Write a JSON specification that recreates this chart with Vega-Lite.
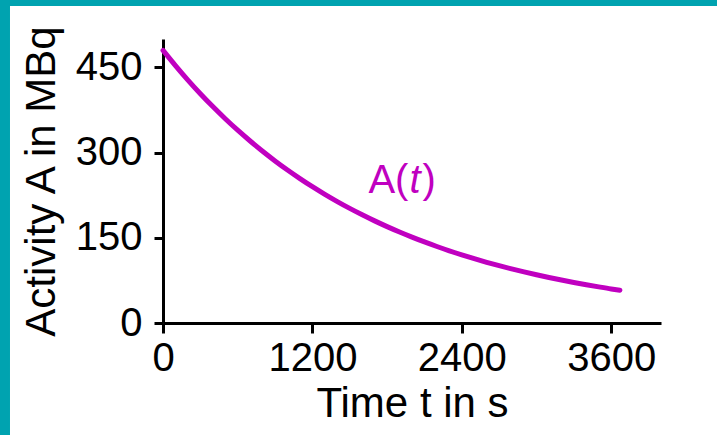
{
  "$schema": "https://vega.github.io/schema/vega-lite/v6.json",
  "width": 498,
  "height": 284,
  "autosize": {"type": "none"},
  "padding": {"left": 163, "top": 39, "right": 56, "bottom": 112},
  "background": "white",
  "config": {
    "view": {"stroke": null},
    "font": "Liberation Sans",
    "axis": {
      "domainColor": "black", "domainWidth": 3, "tickColor": "black", "tickWidth": 3,
      "labelFont": "Liberation Sans", "labelFontSize": 40, "labelColor": "black",
      "titleFont": "Liberation Sans", "titleFontSize": 42, "titleFontWeight": "normal", "titleColor": "black",
      "grid": false
    }
  },
  "datasets": {
    "curve": [
      {"t": 0, "A": 480}, {"t": 100, "A": 453.1}, {"t": 200, "A": 427.6}, {"t": 300, "A": 403.6},
      {"t": 400, "A": 381.0}, {"t": 500, "A": 359.6}, {"t": 600, "A": 339.4}, {"t": 700, "A": 320.4},
      {"t": 800, "A": 302.4}, {"t": 900, "A": 285.4}, {"t": 1000, "A": 269.4}, {"t": 1100, "A": 254.3},
      {"t": 1200, "A": 240.0}, {"t": 1300, "A": 226.5}, {"t": 1400, "A": 213.8}, {"t": 1500, "A": 201.8},
      {"t": 1600, "A": 190.5}, {"t": 1700, "A": 179.8}, {"t": 1800, "A": 169.7}, {"t": 1900, "A": 160.2},
      {"t": 2000, "A": 151.2}, {"t": 2100, "A": 142.7}, {"t": 2200, "A": 134.7}, {"t": 2300, "A": 127.1},
      {"t": 2400, "A": 120.0}, {"t": 2500, "A": 113.3}, {"t": 2600, "A": 106.9}, {"t": 2700, "A": 100.9},
      {"t": 2800, "A": 95.2}, {"t": 2900, "A": 89.9}, {"t": 3000, "A": 84.9}, {"t": 3100, "A": 80.1},
      {"t": 3200, "A": 75.6}, {"t": 3300, "A": 71.4}, {"t": 3400, "A": 67.4}, {"t": 3500, "A": 63.6},
      {"t": 3600, "A": 60.0}, {"t": 3670, "A": 57.8}
    ],
    "label": [{"t": 1650, "A": 229}],
    "frame": [
      {"t": -1600, "t2": 5000, "A": 558, "A2": 700},
      {"t": -1600, "t2": -1229, "A": 700, "A2": -400}
    ]
  },
  "layer": [
    {
      "data": {"name": "frame"},
      "mark": {"type": "rect", "color": "#00a3b0", "clip": false},
      "encoding": {
        "x": {
          "field": "t", "type": "quantitative",
          "scale": {"domain": [0, 4000], "nice": false},
          "axis": {"values": [0, 1200, 2400, 3600], "format": "d", "tickSize": 10, "labelPadding": 5, "title": "Time t in s", "titlePadding": 5, "labelFlush": false}
        },
        "x2": {"field": "t2"},
        "y": {
          "field": "A", "type": "quantitative",
          "scale": {"domain": [0, 500], "nice": false},
          "axis": {"values": [0, 150, 300, 450], "format": "d", "tickSize": 9, "labelPadding": 12, "title": "Activity A in MBq", "titlePadding": 12, "labelFlush": false}
        },
        "y2": {"field": "A2"}
      }
    },
    {
      "data": {"name": "curve"},
      "mark": {"type": "line", "color": "#c000c0", "strokeWidth": 5, "strokeCap": "round", "interpolate": "monotone"},
      "encoding": {
        "x": {"field": "t", "type": "quantitative"},
        "y": {"field": "A", "type": "quantitative"}
      }
    },
    {
      "data": {"name": "label"},
      "mark": {"type": "text", "color": "#c000c0", "fontSize": 40, "align": "left", "baseline": "alphabetic", "font": "Liberation Sans", "text": "A("},
      "encoding": {
        "x": {"field": "t", "type": "quantitative"},
        "y": {"field": "A", "type": "quantitative"}
      }
    },
    {
      "data": {"name": "label"},
      "mark": {"type": "text", "color": "#c000c0", "fontSize": 40, "align": "left", "baseline": "alphabetic", "font": "Liberation Sans", "fontStyle": "italic", "text": "t", "dx": 41},
      "encoding": {
        "x": {"field": "t", "type": "quantitative"},
        "y": {"field": "A", "type": "quantitative"}
      }
    },
    {
      "data": {"name": "label"},
      "mark": {"type": "text", "color": "#c000c0", "fontSize": 40, "align": "left", "baseline": "alphabetic", "font": "Liberation Sans", "text": ")", "dx": 54},
      "encoding": {
        "x": {"field": "t", "type": "quantitative"},
        "y": {"field": "A", "type": "quantitative"}
      }
    }
  ]
}
